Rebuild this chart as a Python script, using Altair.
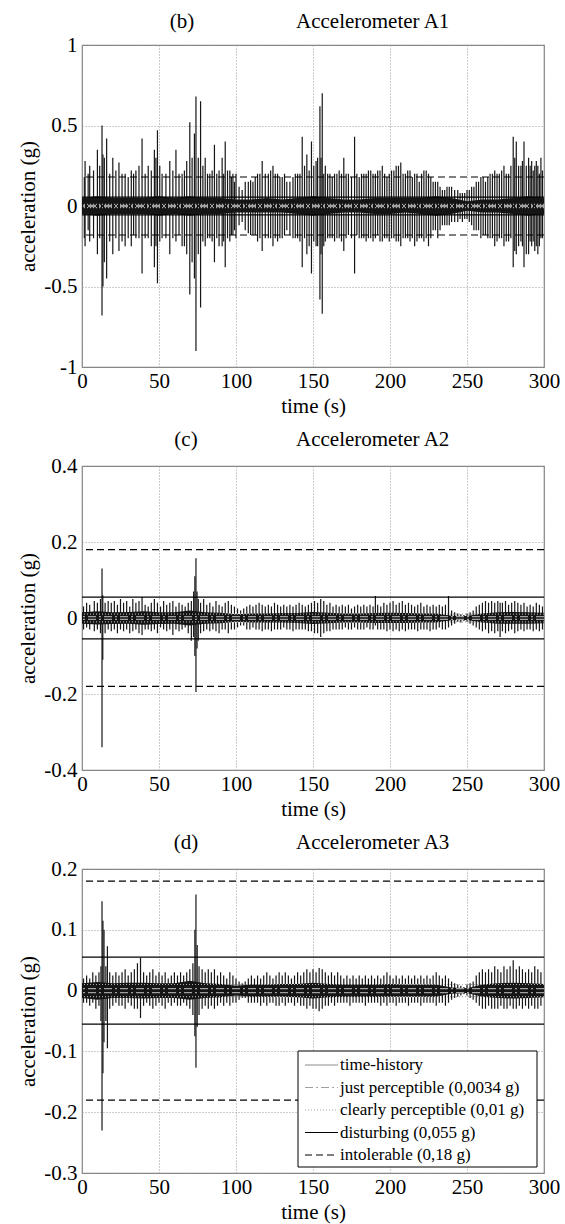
import altair as alt
import pandas as pd

FONT = "Liberation Serif"

time_ticks = [0, 50, 100, 150, 200, 250, 300]

# ---------------- Accelerometer A1 : large peaks ----------------
a1_peak_t = [2, 5, 10, 13, 13.6, 16, 20, 24, 28, 32,
             35, 39, 43, 47, 49, 52, 57, 61, 65, 68,
             70, 73, 74, 77, 80, 83, 86, 89, 91, 93,
             96, 98, 100, 104, 108, 111, 114, 117, 121, 124,
             127, 130, 133, 137, 140, 143, 146, 149, 152, 154.5,
             156, 158, 161, 164, 167, 170, 173, 177, 180, 183,
             186, 189, 192, 195, 198, 201, 204, 207, 210, 213,
             216, 219, 222, 225, 228, 231, 234, 237, 240, 244,
             247, 250, 253, 256, 259, 262, 265, 268, 271, 274,
             277, 280, 282, 285, 287, 290, 292, 294, 296, 298]
a1_peak_hi = [.28, .25, .35, .50, .32, .42, .30, .27, .20, .22,
              .22, .42, .25, .35, .47, .20, .28, .35, .20, .28,
              .52, .45, .68, .65, .30, .20, .38, .22, .30, .40,
              .22, .20, .20, .10, .15, .15, .20, .28, .20, .25,
              .20, .18, .15, .18, .20, .43, .32, .40, .28, .62,
              .70, .25, .20, .20, .22, .30, .20, .43, .18, .20,
              .22, .20, .22, .25, .18, .22, .25, .27, .20, .22,
              .20, .15, .22, .20, .15, .15, .10, .12, .12, .10,
              .08, .10, .12, .15, .18, .15, .20, .22, .20, .25,
              .20, .43, .40, .25, .40, .30, .28, .25, .25, .30]
a1_peak_lo = [-.25, -.22, -.30, -.68, -.50, -.45, -.30, -.28, -.25, -.25,
              -.20, -.42, -.20, -.38, -.48, -.20, -.30, -.22, -.25, -.30,
              -.55, -.45, -.90, -.63, -.25, -.20, -.35, -.25, -.25, -.38,
              -.22, -.18, -.20, -.10, -.17, -.18, -.22, -.28, -.20, -.25,
              -.22, -.20, -.15, -.20, -.20, -.38, -.30, -.42, -.25, -.58,
              -.67, -.22, -.20, -.22, -.20, -.28, -.18, -.42, -.20, -.20,
              -.20, -.22, -.18, -.22, -.20, -.20, -.22, -.25, -.20, -.22,
              -.25, -.20, -.22, -.25, -.15, -.20, -.12, -.12, -.10, -.10,
              -.10, -.08, -.12, -.15, -.20, -.18, -.20, -.25, -.20, -.25,
              -.22, -.38, -.30, -.22, -.38, -.30, -.25, -.28, -.30, -.20]

# ---------------- Accelerometer A1 : medium oscillations ----------------
a1_mid_t = [1.5, 4, 7.5, 11.5, 14.5, 18, 22, 26, 30, 33.5,
            37, 41, 45, 48, 50.5, 54.5, 59, 63, 66.5, 71.5,
            75.5, 78.5, 81.5, 84.5, 87.5, 92, 94.5, 97, 99, 102,
            106, 109.5, 112.5, 115.5, 119, 122.5, 125.5, 128.5, 131.5, 135,
            138.5, 141.5, 144.5, 147.5, 150.5, 153, 155.2, 157, 159.5, 162.5,
            165.5, 168.5, 171.5, 175, 178.5, 181.5, 184.5, 187.5, 190.5, 193.5,
            196.5, 199.5, 202.5, 205.5, 208.5, 211.5, 214.5, 217.5, 220.5, 223.5,
            226.5, 229.5, 232.5, 235.5, 238.5, 242, 245.5, 248.5, 251.5, 254.5,
            257.5, 260.5, 263.5, 266.5, 269.5, 272.5, 275.5, 278.5, 281, 283.5,
            286, 288.5, 291, 293, 295, 297, 299]
a1_mid_hi = [.18, .20, .22, .25, .30, .20, .22, .20, .18, .20,
             .25, .20, .22, .30, .25, .20, .22, .20, .22, .30,
             .30, .25, .20, .22, .20, .20, .22, .18, .15, .12,
             .15, .16, .18, .20, .20, .22, .20, .18, .20, .15,
             .20, .20, .25, .22, .25, .30, .30, .20, .20, .18,
             .20, .20, .20, .18, .20, .20, .20, .22, .20, .22,
             .20, .20, .22, .25, .20, .22, .18, .20, .20, .22,
             .18, .15, .12, .10, .12, .10, .08, .08, .10, .12,
             .15, .18, .18, .20, .20, .22, .20, .25, .30, .25,
             .28, .25, .25, .22, .28, .20, .22]
a1_mid_lo = [-.20, -.15, -.20, -.20, -.35, -.22, -.20, -.22, -.20, -.18,
             -.20, -.20, -.25, -.25, -.22, -.20, -.20, -.18, -.25, -.35,
             -.30, -.22, -.20, -.22, -.20, -.22, -.20, -.18, -.15, -.12,
             -.15, -.18, -.18, -.20, -.20, -.20, -.20, -.20, -.18, -.18,
             -.20, -.22, -.20, -.25, -.22, -.25, -.30, -.25, -.20, -.20,
             -.20, -.22, -.20, -.20, -.18, -.20, -.22, -.20, -.20, -.22,
             -.20, -.22, -.20, -.22, -.20, -.20, -.20, -.22, -.20, -.20,
             -.20, -.15, -.15, -.12, -.12, -.10, -.08, -.08, -.10, -.15,
             -.15, -.18, -.20, -.20, -.22, -.20, -.22, -.20, -.28, -.25,
             -.25, -.30, -.22, -.22, -.25, -.25, -.20]

# ---------------- dense core envelopes (every 10 s) ----------------
core_t = [0, 10, 20, 30, 40, 50, 60, 70, 80, 90,
          100, 110, 120, 130, 140, 150, 160, 170, 180, 190,
          200, 210, 220, 230, 240, 250, 260, 270, 280, 290, 300]
a1_core_hi = [.05, .06, .05, .05, .05, .06, .05, .06, .05, .05,
              .04, .04, .05, .04, .05, .06, .05, .04, .04, .05,
              .05, .05, .05, .06, .05, .03, .04, .04, .05, .06, .05]
a1_core_lo = [-.05, -.06, -.05, -.05, -.05, -.06, -.05, -.06, -.05, -.05,
              -.04, -.04, -.04, -.04, -.05, -.06, -.05, -.04, -.04, -.05,
              -.05, -.04, -.05, -.06, -.05, -.03, -.04, -.04, -.05, -.06, -.05]
a2_core_hi = [.015, .018, .015, .016, .018, .015, .015, .020, .015, .014,
              .010, .012, .012, .013, .013, .016, .014, .012, .012, .013,
              .014, .013, .012, .012, .006, .005, .012, .015, .016, .015, .014]
a2_core_lo = [-.015, -.017, -.016, -.015, -.018, -.016, -.015, -.020, -.015, -.014,
              -.010, -.012, -.012, -.012, -.013, -.016, -.014, -.012, -.012, -.013,
              -.013, -.013, -.012, -.012, -.006, -.005, -.012, -.015, -.015, -.015, -.014]
a3_core_hi = [.012, .014, .012, .013, .013, .012, .012, .016, .012, .011,
              .008, .010, .010, .011, .011, .013, .011, .010, .010, .010,
              .011, .010, .010, .010, .005, .004, .010, .012, .013, .012, .011]
a3_core_lo = [-.012, -.015, -.012, -.012, -.013, -.012, -.012, -.015, -.012, -.011,
              -.008, -.010, -.010, -.010, -.011, -.013, -.011, -.010, -.010, -.010,
              -.010, -.010, -.010, -.010, -.005, -.004, -.010, -.012, -.013, -.012, -.011]

# ---------------- Accelerometer A2 ----------------
a2_t = [1, 3, 5, 8, 10, 12, 13, 13.5, 15, 17,
        19, 21, 23, 25, 27, 29, 31, 33, 35, 37,
        39, 41, 43, 45, 47, 49, 51, 53, 55, 57,
        59, 61, 63, 65, 67, 69, 71, 72.5, 73.3, 74,
        74.7, 75.5, 77, 79, 81, 83, 85, 87, 89, 91,
        93, 95, 97, 99, 101, 103, 105, 107, 109, 111,
        113, 115, 117, 119, 121, 123, 125, 127, 129, 131,
        133, 135, 137, 139, 141, 143, 145, 147, 149, 151,
        153, 155, 157, 159, 161, 163, 165, 167, 169, 171,
        173, 175, 177, 179, 181, 183, 185, 187, 189, 190.5,
        192, 194, 196, 198, 200, 202, 204, 206, 208, 210,
        212, 214, 216, 218, 220, 222, 224, 226, 228, 230,
        232, 234, 236, 238, 240, 242, 244, 246, 248, 250,
        252, 254, 256, 258, 260, 262, 264, 266, 268, 270,
        271.5, 273, 275, 277, 279, 281, 283, 285, 287, 289,
        291, 293, 295, 297, 299]
a2_hi = [.030, .040, .035, .045, .040, .050, .130, .060, .040, .045,
         .040, .045, .035, .050, .040, .045, .030, .050, .040, .045,
         .055, .035, .030, .040, .050, .040, .030, .045, .035, .040,
         .045, .030, .040, .035, .030, .040, .045, .070, .110, .157,
         .070, .050, .040, .050, .035, .040, .030, .045, .035, .030,
         .040, .045, .035, .030, .025, .020, .025, .030, .035, .030,
         .035, .040, .035, .030, .035, .030, .040, .035, .030, .035,
         .030, .035, .030, .035, .040, .035, .030, .035, .040, .045,
         .040, .050, .045, .035, .040, .030, .035, .030, .035, .030,
         .035, .025, .030, .035, .030, .035, .030, .035, .030, .058,
         .035, .030, .040, .035, .040, .045, .035, .040, .045, .035,
         .040, .035, .030, .035, .040, .030, .035, .030, .035, .030,
         .035, .030, .035, .058, .020, .015, .012, .010, .008, .012,
         .015, .020, .030, .035, .040, .045, .040, .045, .040, .045,
         .040, .040, .045, .035, .040, .045, .040, .035, .040, .030,
         .035, .030, .040, .035, .030]
a2_lo = [-.030, -.025, -.030, -.035, -.030, -.040, -.340, -.110, -.040, -.030,
         -.035, -.030, -.040, -.030, -.035, -.030, -.040, -.035, -.030, -.040,
         -.045, -.030, -.030, -.035, -.030, -.040, -.025, -.030, -.035, -.030,
         -.045, -.030, -.035, -.030, -.025, -.040, -.060, -.050, -.100, -.195,
         -.080, -.060, -.040, -.035, -.030, -.035, -.030, -.035, -.040, -.030,
         -.030, -.040, -.030, -.030, -.025, -.020, -.020, -.030, -.030, -.025,
         -.030, -.030, -.035, -.030, -.030, -.035, -.030, -.030, -.030, -.025,
         -.030, -.030, -.035, -.030, -.030, -.030, -.030, -.035, -.035, -.040,
         -.040, -.050, -.040, -.035, -.035, -.030, -.030, -.030, -.030, -.025,
         -.030, -.030, -.025, -.030, -.030, -.030, -.025, -.030, -.030, -.020,
         -.030, -.030, -.030, -.035, -.030, -.035, -.030, -.035, -.030, -.035,
         -.030, -.030, -.030, -.035, -.030, -.030, -.030, -.035, -.030, -.030,
         -.025, -.030, -.030, -.025, -.020, -.015, -.010, -.012, -.008, -.010,
         -.015, -.020, -.025, -.030, -.035, -.030, -.040, -.035, -.040, -.035,
         -.050, -.035, -.040, -.035, -.030, -.040, -.035, -.030, -.035, -.030,
         -.030, -.035, -.030, -.035, -.030]

# ---------------- Accelerometer A3 ----------------
a3_t = [1, 3, 5, 7, 9, 11, 12.3, 13, 13.6, 14.3,
        15.5, 16.5, 18, 20, 22, 24, 26, 28, 30, 32,
        34, 36, 38, 40, 42, 44, 46, 48, 50, 52,
        54, 56, 58, 60, 62, 64, 66, 68, 70, 72,
        73.3, 74, 74.8, 76, 78, 80, 82, 84, 86, 88,
        90, 92, 94, 96, 98, 100, 102, 104, 106, 108,
        110, 112, 114, 116, 118, 120, 122, 124, 126, 128,
        130, 132, 134, 136, 138, 140, 142, 144, 146, 148,
        150, 152, 154, 156, 158, 160, 162, 164, 166, 168,
        170, 172, 174, 176, 178, 180, 182, 184, 186, 188,
        190, 192, 194, 196, 198, 200, 202, 204, 206, 208,
        210, 212, 214, 216, 218, 220, 222, 224, 226, 228,
        230, 232, 234, 236, 238, 240, 242, 244, 246, 248,
        250, 252, 254, 256, 258, 260, 262, 264, 266, 268,
        270, 272, 274, 276, 278, 280, 282, 284, 286, 288,
        290, 292, 294, 296, 298]
a3_hi = [.020, .025, .020, .030, .025, .030, .040, .147, .115, .100,
         .040, .073, .030, .025, .030, .025, .030, .035, .025, .030,
         .035, .045, .054, .030, .025, .030, .035, .025, .030, .025,
         .030, .020, .025, .030, .025, .030, .025, .030, .035, .045,
         .100, .158, .075, .040, .035, .030, .035, .030, .035, .025,
         .030, .025, .020, .030, .025, .020, .015, .012, .015, .020,
         .025, .020, .025, .020, .025, .030, .025, .020, .025, .030,
         .025, .030, .025, .020, .025, .030, .025, .030, .035, .030,
         .035, .030, .037, .035, .030, .025, .030, .025, .030, .025,
         .020, .025, .020, .025, .020, .025, .020, .025, .020, .025,
         .020, .025, .020, .025, .030, .025, .020, .025, .020, .025,
         .020, .025, .020, .025, .020, .025, .020, .025, .020, .025,
         .030, .025, .020, .025, .020, .015, .012, .010, .008, .006,
         .010, .012, .015, .025, .030, .035, .030, .035, .030, .040,
         .035, .030, .040, .035, .040, .050, .035, .040, .035, .030,
         .035, .030, .040, .035, .030]
a3_lo = [-.020, -.020, -.025, -.020, -.030, -.025, -.050, -.230, -.136, -.085,
         -.050, -.095, -.030, -.025, -.020, -.025, -.025, -.030, -.020, -.025,
         -.030, -.030, -.045, -.025, -.020, -.025, -.030, -.025, -.020, -.025,
         -.030, -.020, -.025, -.020, -.025, -.025, -.020, -.025, -.030, -.040,
         -.075, -.127, -.060, -.040, -.030, -.025, -.030, -.025, -.030, -.025,
         -.020, -.025, -.020, -.025, -.020, -.020, -.015, -.012, -.012, -.020,
         -.020, -.020, -.020, -.025, -.020, -.025, -.020, -.020, -.025, -.025,
         -.020, -.025, -.020, -.020, -.025, -.020, -.025, -.025, -.030, -.025,
         -.030, -.030, -.034, -.030, -.025, -.025, -.020, -.025, -.020, -.020,
         -.020, -.020, -.025, -.020, -.020, -.020, -.020, -.025, -.020, -.020,
         -.020, -.020, -.025, -.020, -.025, -.020, -.020, -.025, -.020, -.020,
         -.020, -.025, -.020, -.020, -.020, -.025, -.020, -.020, -.020, -.020,
         -.025, -.020, -.020, -.025, -.020, -.015, -.012, -.010, -.008, -.006,
         -.008, -.012, -.015, -.020, -.025, -.030, -.030, -.025, -.030, -.030,
         -.030, -.025, -.030, -.030, -.025, -.030, -.030, -.025, -.030, -.025,
         -.030, -.025, -.030, -.030, -.025]

# ---------------- comfort thresholds ----------------
SERIES = ["time-history",
          "just perceptible (0,0034 g)",
          "clearly perceptible (0,01 g)",
          "disturbing (0,055 g)",
          "intolerable (0,18 g)"]
LEVELS = [0.0034, 0.01, 0.055, 0.18]

SIGNAL_COLOR = "#161616"
color_scale = alt.Scale(domain=SERIES, range=["#8c8c8c", "#a0a0a0", "#a8a8a8", "#000000", "#000000"])
dash_scale = alt.Scale(domain=SERIES, range=[[1, 0], [8, 3, 2, 3], [1, 2], [1, 0], [7, 4]])
width_scale = alt.Scale(domain=SERIES, range=[1.2, 1.2, 1.2, 1.6, 1.8])

thr_series = []
thr_value = []
for name, lev in zip(SERIES[1:], LEVELS):
    thr_series += [name, name]
    thr_value += [lev, -lev]
thr_df = pd.DataFrame({"series": thr_series, "y": thr_value})


def spikes(ts, his, los):
    return pd.DataFrame({"t": ts, "hi": his, "lo": los, "series": "time-history"})


def style_enc(with_color=True):
    enc = dict(
        strokeDash=alt.StrokeDash("series:N", scale=dash_scale, legend=None),
        strokeWidth=alt.StrokeWidth("series:N", scale=width_scale, legend=None),
    )
    if with_color:
        enc["color"] = alt.Color("series:N", scale=color_scale, legend=None)
    return enc


def panel(sig_df, core_df, ydom, yticks, h, tag, tag_x, name, title_y):
    xaxis = alt.Axis(values=time_ticks, labelExpr="toString(datum.value)", title="time (s)",
                     labelFlush=False, labelOverlap=False, labelPadding=3,
                     titleY=39, titleBaseline="middle")
    yaxis = alt.Axis(values=yticks, labelExpr="toString(datum.value)", title="acceleration (g)",
                     labelFlush=False, labelOverlap=False, labelPadding=5,
                     titleX=-54, titleBaseline="middle")
    xs = alt.Scale(domain=[0, 300], nice=False, zero=False)
    ys = alt.Scale(domain=ydom, nice=False, zero=False)

    core = alt.Chart(core_df).mark_area(color=SIGNAL_COLOR).encode(
        x=alt.X("t:Q", scale=xs, axis=xaxis),
        y=alt.Y("lo:Q", scale=ys, axis=yaxis),
        y2="hi:Q",
    )
    sig = alt.Chart(sig_df).mark_rule(color=SIGNAL_COLOR).encode(
        x=alt.X("t:Q", scale=xs, axis=xaxis),
        y=alt.Y("lo:Q", scale=ys, axis=yaxis),
        y2="hi:Q",
        **style_enc(with_color=False),
    )
    thr = alt.Chart(thr_df).mark_rule().encode(
        y=alt.Y("y:Q", scale=ys, axis=yaxis),
        **style_enc(),
    )
    t1 = alt.Chart(pd.DataFrame({"label": [tag]})).mark_text(
        font=FONT, fontSize=21, align="center", baseline="middle", color="black"
    ).encode(x=alt.value(tag_x), y=alt.value(title_y), text="label:N")
    t2 = alt.Chart(pd.DataFrame({"label": [name]})).mark_text(
        font=FONT, fontSize=21, align="left", baseline="middle", color="black"
    ).encode(x=alt.value(214), y=alt.value(title_y), text="label:N")
    return alt.layer(core, sig, thr, t1, t2).properties(width=462, height=h)


p1 = panel(pd.concat([spikes(a1_peak_t, a1_peak_hi, a1_peak_lo),
                      spikes(a1_mid_t, a1_mid_hi, a1_mid_lo)]),
           pd.DataFrame({"t": core_t, "hi": a1_core_hi, "lo": a1_core_lo}),
           [-1, 1], [-1, -0.5, 0, 0.5, 1], 322, "(b)", 100, "Accelerometer A1", -23)
p2 = panel(spikes(a2_t, a2_hi, a2_lo),
           pd.DataFrame({"t": core_t, "hi": a2_core_hi, "lo": a2_core_lo}),
           [-0.4, 0.4], [-0.4, -0.2, 0, 0.2, 0.4], 304, "(c)", 104, "Accelerometer A2", -26)
p3_main = panel(spikes(a3_t, a3_hi, a3_lo),
                pd.DataFrame({"t": core_t, "hi": a3_core_hi, "lo": a3_core_lo}),
                [-0.3, 0.2], [-0.3, -0.2, -0.1, 0, 0.1, 0.2], 304, "(d)", 104, "Accelerometer A3", -26)

# manual legend for the bottom panel
leg_df = pd.DataFrame({"series": SERIES})
leg_y = alt.Y("series:N", scale=alt.Scale(type="point", domain=SERIES, range=[196, 286], padding=0), axis=None)
leg_box = alt.Chart(pd.DataFrame({"b": [0]})).mark_rect(fill="white", stroke="black", strokeWidth=1).encode(
    x=alt.value(216), x2=alt.value(455), y=alt.value(182), y2=alt.value(298))
leg_lines = alt.Chart(leg_df).mark_rule().encode(
    x=alt.value(223), x2=alt.value(256), y=leg_y, **style_enc())
leg_text = alt.Chart(leg_df).mark_text(align="left", baseline="middle", font=FONT, fontSize=17, color="black").encode(
    x=alt.value(258), y=leg_y, text="series:N")
legend_layer = alt.layer(leg_box, leg_lines, leg_text)

p3 = alt.layer(p3_main, legend_layer).resolve_scale(y="independent")

chart = alt.vconcat(p1, p2, p3, spacing=99, bounds="flush").properties(
    padding={"left": 16, "top": 10, "right": 2, "bottom": 2},
    background="white",
).configure_view(
    stroke="#7f7f7f", strokeWidth=1.2
).configure_axis(
    labelFont=FONT, labelFontSize=21, labelColor="black",
    titleFont=FONT, titleFontSize=21, titleFontWeight="normal", titleColor="black",
    ticks=False, domain=False,
    grid=True, gridColor="#9a9a9a", gridDash=[1, 2], gridWidth=1,
)

chart.save("out.html", embed_options={"renderer": "svg", "actions": False})
